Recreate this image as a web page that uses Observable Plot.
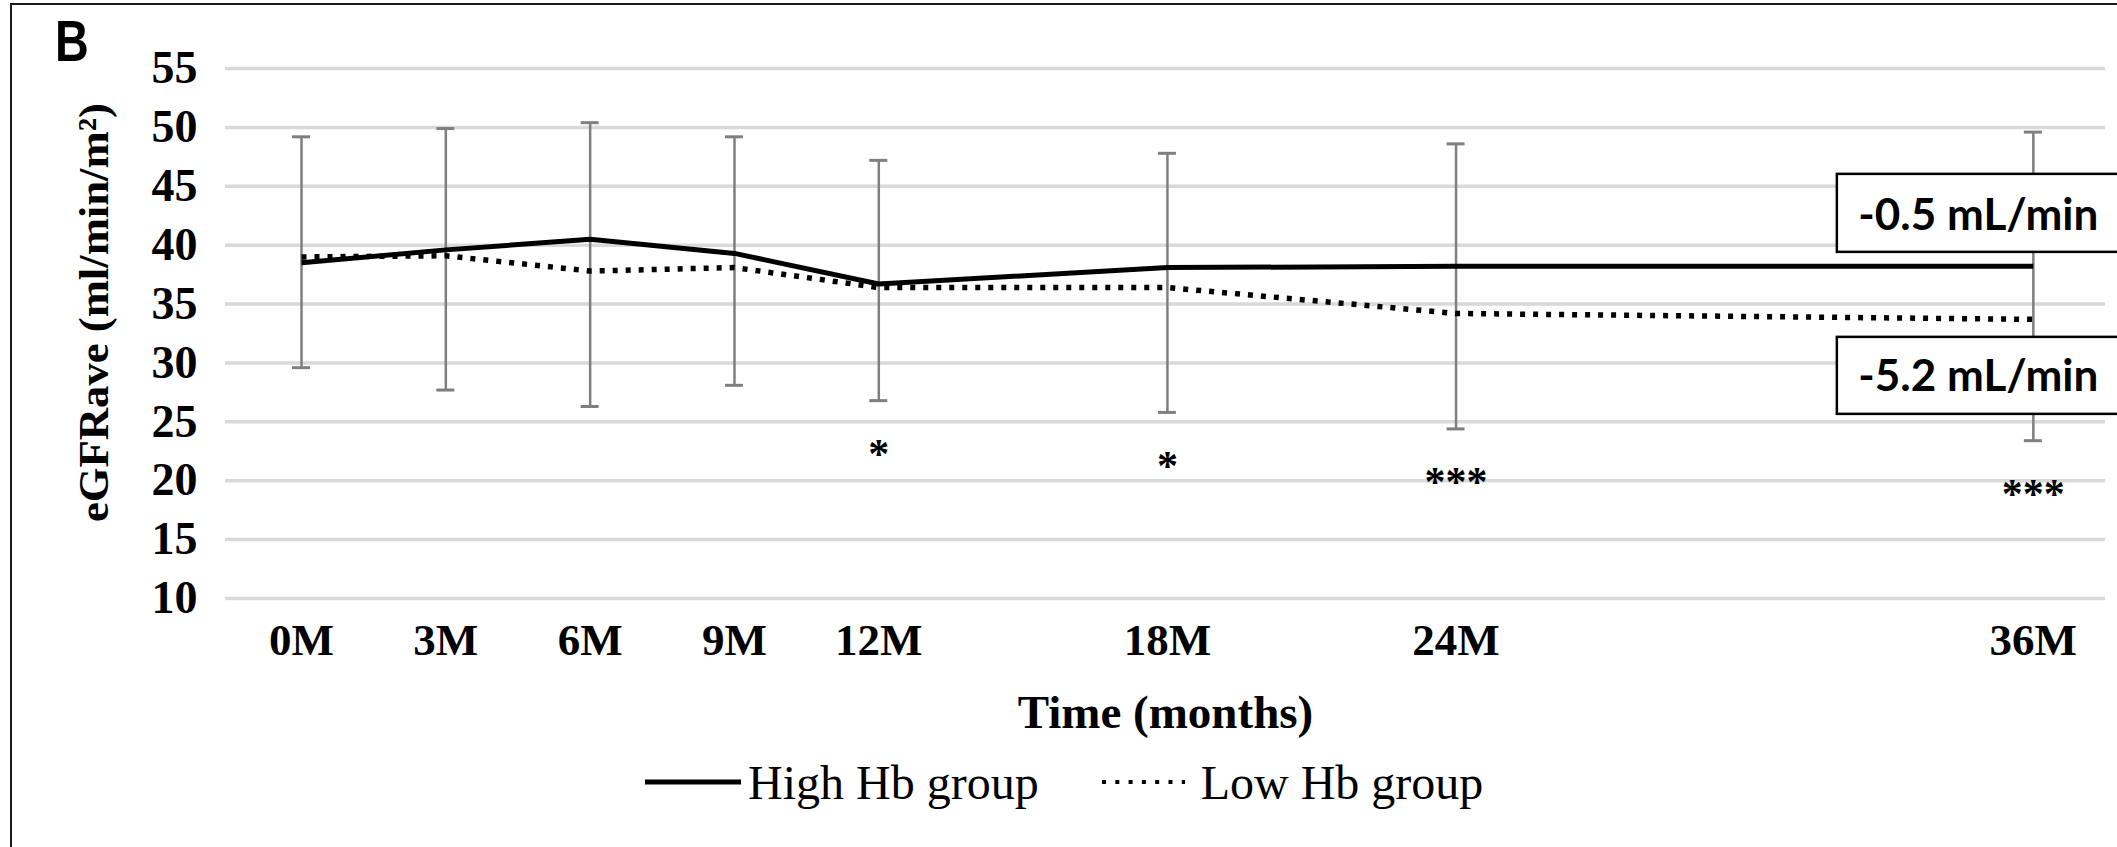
<!DOCTYPE html>
<html>
<head>
<meta charset="utf-8">
<script src="https://cdn.jsdelivr.net/npm/d3@7"></script>
<script src="https://cdn.jsdelivr.net/npm/@observablehq/plot@0.6"></script>
<style>
  html, body { margin: 0; padding: 0; background: #fff; }
  #wrap { position: relative; width: 2117px; height: 847px; overflow: hidden; background: #fff; }
  #frame { position: absolute; left: 10px; top: 3px; width: 2300px; height: 1000px;
           border-left: 2.5px solid #1a1a1a; border-top: 2.5px solid #1a1a1a; pointer-events: none; }
  #panel { position: absolute; left: 55px; top: 13px; font: bold 57px "Liberation Sans", Arial, sans-serif;
           line-height: 57px; transform: scaleX(0.82); transform-origin: left top; color: #000; }
  #chart { position: absolute; left: 0; top: 0; }
  #legend { position: absolute; left: 645px; top: 755px; height: 54px; display: flex; align-items: center;
            font: 48px "Liberation Serif", "Times New Roman", serif; color: #000; white-space: nowrap; }
  #legend svg { display: block; }
</style>
</head>
<body>
<div id="wrap">
  <div id="chart"></div>
  <div id="panel">B</div>
  <div id="legend"></div>
  <div id="frame"></div>
</div>
<script>
// ---- data ----
const months = [0, 3, 6, 9, 12, 18, 24, 36];
const monthLabels = ["0M", "3M", "6M", "9M", "12M", "18M", "24M", "36M"];
const highHb = [38.5, 39.6, 40.5, 39.3, 36.7, 38.1, 38.2, 38.2];
const lowHb = [39.0, 39.1, 37.8, 38.1, 36.4, 36.4, 34.2, 33.7];
const errUpper = [49.2, 49.9, 50.4, 49.2, 47.2, 47.8, 48.6, 49.6];
const errLower = [29.6, 27.7, 26.3, 28.1, 26.8, 25.8, 24.4, 23.4];
const significance = ["", "", "", "", "*", "*", "***", "***"];
const yTicks = [10, 15, 20, 25, 30, 35, 40, 45, 50, 55];
const seriesNames = ["High Hb group", "Low Hb group"];
const slopeLabels = ["-0.5 mL/min", "-5.2 mL/min"];
const xTitle = "Time (months)";
const yTitle = "eGFRave (ml/min/m²)";

const rows = months.map((m, i) => ({
  month: m, high: highHb[i], low: lowHb[i], upper: errUpper[i], lower: errLower[i], sig: significance[i]
}));
const last = rows[rows.length - 1];
const serif = "'Liberation Serif', 'Times New Roman', serif";
const sans = "Lato, 'Open Sans', sans-serif";
const errColor = "#7f7f7f";

const plot = Plot.plot({
  width: 2117,
  height: 745,
  marginTop: 68,
  marginBottom: 147,
  marginLeft: 225,
  marginRight: 12,
  style: { background: "transparent", fontFamily: serif, color: "black", overflow: "visible" },
  x: { domain: [-1.58, 37.5] },
  y: { domain: [10, 55] },
  marks: [
    Plot.gridY(yTicks, { stroke: "#d9d9d9", strokeWidth: 3.5, strokeOpacity: 1 }),
    Plot.axisY(yTicks, { tickSize: 0, tickPadding: 28, fontSize: 46, fontWeight: "bold", label: null }),
    Plot.axisX(months, {
      tickSize: 0, tickPadding: 25, fontSize: 45, fontWeight: "bold",
      tickFormat: d => monthLabels[months.indexOf(d)], label: null
    }),
    Plot.ruleX(rows, { x: "month", y1: "lower", y2: "upper", stroke: errColor, strokeWidth: 2.5 }),
    Plot.ruleY(rows, { y: "upper", x1: "month", x2: "month", insetLeft: -9, insetRight: -9, stroke: errColor, strokeWidth: 3 }),
    Plot.ruleY(rows, { y: "lower", x1: "month", x2: "month", insetLeft: -9, insetRight: -9, stroke: errColor, strokeWidth: 3 }),
    Plot.line(rows, { x: "month", y: "low", stroke: "black", strokeWidth: 5.5, strokeDasharray: "5,8", strokeLinecap: "butt", strokeLinejoin: "miter" }),
    Plot.line(rows, { x: "month", y: "high", stroke: "black", strokeWidth: 5, strokeLinecap: "butt", strokeLinejoin: "round" }),
    Plot.text(rows.filter(d => d.sig), {
      x: "month", y: "lower", text: "sig", dy: 54, lineAnchor: "middle",
      fontSize: 42, fontWeight: "bold", fill: "black"
    }),
    Plot.text([last], {
      x: "month", y: "high", text: () => slopeLabels[0], dx: -55, dy: -50, lineAnchor: "middle",
      fontFamily: sans, fontWeight: "bold", fontSize: 43, fill: "black"
    }),
    Plot.text([last], {
      x: "month", y: "low", text: () => slopeLabels[1], dx: -55, dy: 58, lineAnchor: "middle",
      fontFamily: sans, fontWeight: "bold", fontSize: 43, fill: "black"
    }),
    Plot.text([yTitle], {
      text: d => d, frameAnchor: "left", rotate: -90, dx: -118, dy: -21, lineAnchor: "bottom",
      textAnchor: "middle", fontSize: 43, fontWeight: "bold", fill: "black"
    }),
    Plot.text([xTitle], {
      text: d => d, frameAnchor: "bottom", dy: 129, lineAnchor: "bottom",
      fontSize: 47, fontWeight: "bold", fill: "black"
    })
  ]
});

document.getElementById("chart").appendChild(plot);

// find a text element by its content
function findText(str) {
  return Array.from(plot.querySelectorAll("text")).find(t => t.textContent === str);
}
function stretch(t, len) {
  t.setAttribute("textLength", len);
  t.setAttribute("lengthAdjust", "spacingAndGlyphs");
  t.querySelectorAll("tspan").forEach(s => {
    s.setAttribute("textLength", len);
    s.setAttribute("lengthAdjust", "spacingAndGlyphs");
  });
}

// annotation boxes behind the slope labels, placed through the plot's scales
const sx = plot.scale("x"), sy = plot.scale("y");
function addBox(str, top, h) {
  const t = findText(str);
  if (!t) return;
  stretch(t, 240);
  const g = t.closest("g");
  const rect = document.createElementNS("http://www.w3.org/2000/svg", "rect");
  rect.setAttribute("x", sx.apply(last.month) - 196);
  rect.setAttribute("y", top);
  rect.setAttribute("width", 400);
  rect.setAttribute("height", h);
  rect.setAttribute("fill", "white");
  rect.setAttribute("stroke", "black");
  rect.setAttribute("stroke-width", 2.5);
  g.parentNode.insertBefore(rect, g);
}
addBox(slopeLabels[0], sy.apply(last.high) - 92, 78);
addBox(slopeLabels[1], sy.apply(last.low) + 18, 77);

const yt = findText(yTitle);
if (yt) stretch(yt, 419);

// legend below the chart
const legend = d3.select("#legend");
function swatch(dashed) {
  const w = dashed ? 83 : 96;
  const s = legend.append("svg").attr("width", w).attr("height", 12);
  s.append("line").attr("x1", 0).attr("x2", w).attr("y1", 6).attr("y2", 6)
    .attr("stroke", "black").attr("stroke-width", dashed ? 4 : 5)
    .attr("stroke-dasharray", dashed ? "4,9.3" : null);
}
swatch(false);
legend.append("span").style("margin-left", "7px").text(seriesNames[0]);
legend.append("span").style("width", "63px");
swatch(true);
legend.append("span").style("margin-left", "16px").text(seriesNames[1]);
</script>
</body>
</html>
